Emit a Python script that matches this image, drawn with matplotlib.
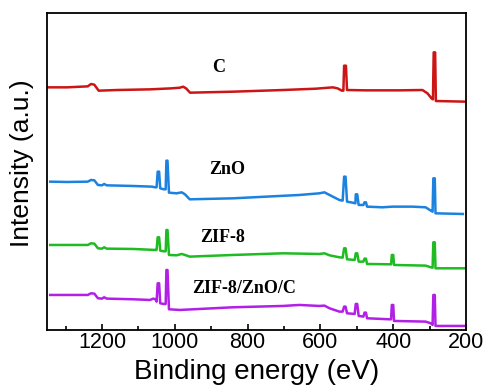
import matplotlib
matplotlib.use("Agg")
import matplotlib.pyplot as plt

# binding energy (eV) and intensity (a.u.)
c_energy = [1348, 1296, 1239, 1230, 1221, 1209, 1159, 1068, 1009, 986, 977, 969,
            958, 840, 703, 612, 566, 553, 541, 537, 535, 530, 527, 475, 384,
            320, 306, 295, 291, 289, 285, 283, 200]
c_counts = [728, 728, 731, 738, 736, 718, 720, 722, 725, 727, 730, 725,
            712, 715, 720, 724, 728, 725, 718, 718, 793, 793, 720, 719, 719,
            720, 710, 695, 692, 833, 833, 687, 685]

zno_energy = [1342, 1296, 1239, 1230, 1221, 1211, 1200, 1194, 1187, 1114, 1063,
              1053, 1050, 1047, 1043, 1040, 1030, 1025, 1023, 1020, 1016, 995,
              981, 972, 959, 840, 749, 658, 603, 589, 575, 548, 539, 535, 531,
              527, 512, 504, 503, 499, 495, 482, 479, 475, 472, 430, 402, 347,
              311, 297, 292, 290, 286, 284, 209]
zno_counts = [445, 444, 445, 450, 449, 435, 434, 438, 434, 432, 430,
              428, 428, 475, 475, 425, 422, 422, 508, 508, 412, 410,
              413, 407, 392, 395, 400, 405, 410, 413, 405, 390, 388, 460, 460,
              385, 382, 380, 407, 407, 375, 375, 383, 383, 370, 368, 370, 370,
              368, 358, 355, 455, 455, 350, 348]

zif_energy = [1342, 1239, 1230, 1221, 1211, 1200, 1194, 1187, 1114, 1053, 1050,
              1047, 1043, 1040, 1030, 1025, 1023, 1020, 1016, 995, 981, 972,
              959, 840, 703, 603, 589, 575, 548, 539, 535, 531, 527, 506, 503,
              499, 495, 482, 479, 475, 472, 411, 406, 404, 400, 398, 311, 297,
              292, 290, 286, 284, 200]
zif_counts = [255, 255, 260, 259, 245, 244, 248, 244, 243, 240, 240,
              278, 278, 238, 236, 236, 300, 300, 225, 224, 228, 225,
              220, 225, 230, 228, 230, 224, 218, 217, 245, 245, 212, 210, 230,
              230, 205, 205, 214, 214, 198, 197, 197, 225, 225, 195, 193, 188,
              187, 263, 263, 185, 185]

mix_energy = [1342, 1239, 1230, 1221, 1211, 1200, 1194, 1187, 1114, 1068, 1059,
              1053, 1050, 1047, 1043, 1040, 1030, 1025, 1023, 1020, 1016, 986,
              840, 703, 658, 603, 589, 575, 548, 539, 535, 531, 527, 506, 503,
              499, 495, 482, 479, 475, 472, 411, 406, 404, 400, 398, 311, 297,
              292, 290, 286, 284, 200]
mix_counts = [105, 105, 110, 109, 95, 94, 98, 94, 92, 90, 94,
              92, 85, 140, 140, 80, 78, 78, 180, 180, 62, 60,
              68, 72, 75, 72, 73, 65, 55, 55, 70, 70, 50, 48, 78,
              78, 42, 40, 52, 52, 35, 32, 32, 75, 75, 27, 25, 20,
              15, 105, 105, 12, 12]

series = [
    (c_energy, c_counts, "#cc1515", "C", 879, 789),
    (zno_energy, zno_counts, "#1c82e0", "ZnO", 857, 480),
    (zif_energy, zif_counts, "#1fbb22", "ZIF-8", 868, 276),
    (mix_energy, mix_counts, "#b21fe6", "ZIF-8/ZnO/C", 811, 123),
]

fig = plt.figure(figsize=(4.83, 3.85), dpi=100)
ax = fig.add_axes([0.098, 0.143, 0.867, 0.824])

for energy, counts, color, name, tx, ty in series:
    ax.plot(energy, counts, color=color, lw=1.8)
    ax.text(tx, ty, name, ha="center", va="center", fontsize=13,
            fontweight="bold", family="Liberation Serif")

ax.set_xlim(1350, 200)
ax.set_ylim(0, 952)
ax.set_xticks([1200, 1000, 800, 600, 400, 200])
ax.set_xticks(range(1300, 200, -200), minor=True)
ax.set_yticks([])
ax.tick_params(axis="x", which="both", direction="in", labelsize=15.5,
               length=4, width=1.2, pad=1.5)
ax.tick_params(axis="x", which="minor", length=3)
for lab in ax.get_xticklabels():
    lab.set_family("Liberation Sans")
for sp in ax.spines.values():
    sp.set_linewidth(1.3)

ax.set_xlabel("Binding energy (eV)", fontsize=20, family="Liberation Sans",
              labelpad=4)
ax.set_ylabel("Intensity (a.u.)", fontsize=19, family="Liberation Sans")
ax.yaxis.set_label_coords(-0.033, 0.527)

fig.savefig("out.png", dpi=100)
